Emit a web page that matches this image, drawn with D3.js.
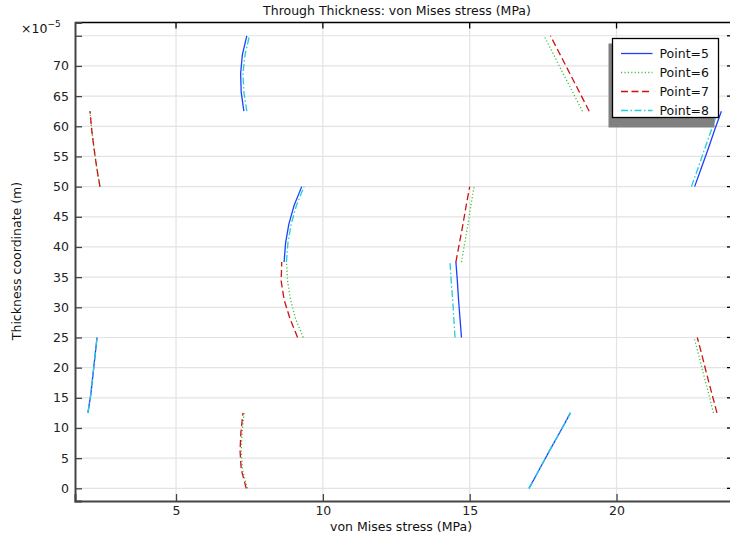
<!DOCTYPE html>
<html><head><meta charset="utf-8">
<script src="https://cdn.jsdelivr.net/npm/d3@7"></script>
<style>body{margin:0;background:#fff;} svg{display:block;font-family:"DejaVu Sans",sans-serif;}</style>
</head><body>
<svg id="c" width="730" height="539"></svg>
<script>
// ---- data (stress in MPa, thickness coordinate in 1e-5 m) ----
const xTicks = [5, 10, 15, 20];
const yTicks = [0, 5, 10, 15, 20, 25, 30, 35, 40, 45, 50, 55, 60, 65, 70, 75];
const seriesNames = ["Point=5", "Point=6", "Point=7", "Point=8"];

// layer z-coordinates (5 per layer)
const zL1 = [0, 3.125, 6.25, 9.375, 12.5];
const zL2 = [12.5, 15.625, 18.75, 21.875, 25];
const zL3 = [25, 28.125, 31.25, 34.375, 37.5];
const zL4 = [37.5, 40.625, 43.75, 46.875, 50];
const zL5 = [50, 53.125, 56.25, 59.375, 62.5];
const zL6 = [62.5, 65.625, 68.75, 71.875, 75];

// stresses per series per layer
const point5 = [
  [17.02, 17.37, 17.72, 18.08, 18.43],
  [2.00, 2.10, 2.17, 2.24, 2.31],
  [14.72, 14.67, 14.62, 14.58, 14.53],
  [8.68, 8.73, 8.84, 9.02, 9.28],
  [22.66, 22.89, 23.12, 23.34, 23.57],
  [7.31, 7.22, 7.20, 7.26, 7.41]
];
const point6 = [
  [7.43, 7.26, 7.22, 7.25, 7.32],
  [23.30, 23.14, 22.97, 22.81, 22.64],
  [9.33, 9.07, 8.90, 8.80, 8.76],
  [14.72, 14.83, 14.94, 15.04, 15.15],
  [2.41, 2.30, 2.21, 2.13, 2.07],
  [18.84, 18.51, 18.18, 17.86, 17.53]
];
const point7 = [
  [7.39, 7.22, 7.18, 7.21, 7.28],
  [23.42, 23.25, 23.08, 22.92, 22.75],
  [9.14, 8.88, 8.68, 8.58, 8.60],
  [14.53, 14.65, 14.77, 14.88, 15.00],
  [2.41, 2.30, 2.21, 2.13, 2.07],
  [19.07, 18.74, 18.41, 18.08, 17.75]
];
const point8 = [
  [17.02, 17.37, 17.72, 18.08, 18.43],
  [2.00, 2.10, 2.17, 2.24, 2.31],
  [14.50, 14.46, 14.42, 14.37, 14.33],
  [8.76, 8.81, 8.92, 9.10, 9.36],
  [22.55, 22.78, 23.00, 23.23, 23.45],
  [7.41, 7.31, 7.28, 7.35, 7.50]
];
const layers = [zL1, zL2, zL3, zL4, zL5, zL6];
const seriesValues = [point5, point6, point7, point8];
const seriesColors = ["#1f3fff", "#40c040", "#d01010", "#20d0d8"];
const seriesDash = [null, "1.2,2.2", "7,3.5", "7,2.5,1.5,2.5"];

// ---- layout ----
const L = 75, R = 734, T = 22.5, B = 501;
const svg = d3.select("#c");
const x = d3.scaleLinear().domain([1.56, 24]).range([L, R]);
const y = d3.scaleLinear().domain([-2.1, 77.2]).range([B, T]);

// grid
const g = svg.append("g");
g.selectAll(".gx").data(xTicks).join("line")
  .attr("x1", d => x(d)).attr("x2", d => x(d)).attr("y1", T).attr("y2", B)
  .attr("stroke", "#e3e3e3").attr("stroke-width", 1.2);
g.selectAll(".gy").data(yTicks).join("line")
  .attr("x1", L).attr("x2", R).attr("y1", d => y(d)).attr("y2", d => y(d))
  .attr("stroke", "#e3e3e3").attr("stroke-width", 1.2);

// clip
svg.append("clipPath").attr("id", "clip").append("rect")
  .attr("x", L).attr("y", T).attr("width", R - L).attr("height", B - T);

// lines
const line = d3.line().x(d => x(d[0])).y(d => y(d[1]));
const lg = svg.append("g").attr("clip-path", "url(#clip)");
seriesValues.forEach((sv, si) => {
  sv.forEach((vals, li) => {
    const pts = vals.map((v, i) => [v, layers[li][i]]);
    lg.append("path").attr("d", line(pts))
      .attr("fill", "none").attr("stroke", seriesColors[si])
      .attr("stroke-width", 1.3)
      .attr("stroke-dasharray", seriesDash[si]);
  });
});

// top and right frame with inward ticks
svg.append("line").attr("x1", L).attr("x2", R).attr("y1", T).attr("y2", T)
  .attr("stroke", "#000").attr("stroke-width", 1.3);
svg.append("line").attr("x1", R).attr("x2", R).attr("y1", T).attr("y2", B)
  .attr("stroke", "#000").attr("stroke-width", 1.3);
svg.append("g").selectAll("line").data(xTicks).join("line")
  .attr("x1", d => x(d)).attr("x2", d => x(d)).attr("y1", T).attr("y2", T + 6)
  .attr("stroke", "#000").attr("stroke-width", 1.3);
svg.append("g").selectAll("line").data(yTicks).join("line")
  .attr("x1", R).attr("x2", R - 7).attr("y1", d => y(d)).attr("y2", d => y(d))
  .attr("stroke", "#000").attr("stroke-width", 1.3);

// axes
const xAxis = d3.axisBottom(x).tickValues(xTicks).tickSize(-7).tickPadding(5).tickFormat(d3.format("d"));
const yAxis = d3.axisLeft(y).tickValues(yTicks).tickSize(-7).tickPadding(6)
  .tickFormat(d => d === 75 ? "" : d);
const gx = svg.append("g").attr("transform", `translate(0,${B})`).call(xAxis);
const gy = svg.append("g").attr("transform", `translate(${L},0)`).call(yAxis);
[gx, gy].forEach(a => {
  a.select(".domain").attr("stroke", "#444").attr("stroke-width", 2);
  a.selectAll(".tick line").attr("stroke", "#444").attr("stroke-width", 1.3);
  a.selectAll(".tick text").attr("font-size", 12.5).attr("fill", "#222")
    .attr("font-family", "DejaVu Sans, sans-serif");
});

// texts
svg.append("text").attr("x", 397).attr("y", 15).attr("text-anchor", "middle")
  .attr("font-size", 12.5).attr("fill", "#111").text("Through Thickness: von Mises stress (MPa)");
svg.append("text").attr("x", 401).attr("y", 531).attr("text-anchor", "middle")
  .attr("font-size", 12.5).attr("fill", "#111").text("von Mises stress (MPa)");
svg.append("text").attr("transform", "translate(21,261) rotate(-90)").attr("text-anchor", "middle")
  .attr("font-size", 12.5).attr("fill", "#111").text("Thickness coordinate (m)");
const ex = svg.append("text").attr("x", 21).attr("y", 33).attr("font-size", 12.5).attr("fill", "#111");
ex.append("tspan").text("\u00d710");
ex.append("tspan").attr("dy", -6).attr("font-size", 9).text("\u22125");

// legend
const lgx = 612.5, lgy = 38.5, lgw = 106, lgh = 79;
const leg = svg.append("g");
leg.append("rect").attr("x", lgx - 4).attr("y", lgy + 5).attr("width", lgw).attr("height", lgh + 5)
  .attr("fill", "#808080");
leg.append("rect").attr("x", lgx).attr("y", lgy).attr("width", lgw).attr("height", lgh)
  .attr("fill", "#fff").attr("stroke", "#000").attr("stroke-width", 1.3);
seriesNames.forEach((n, i) => {
  const yy = lgy + 15 + i * 19;
  leg.append("line").attr("x1", lgx + 8.5).attr("x2", lgx + 40).attr("y1", yy).attr("y2", yy)
    .attr("stroke", seriesColors[i]).attr("stroke-width", 1.3).attr("stroke-dasharray", seriesDash[i]);
  leg.append("text").attr("x", lgx + 47).attr("y", yy + 4.5).attr("font-size", 12.5).attr("fill", "#111").text(n);
});
</script>
</body></html>
